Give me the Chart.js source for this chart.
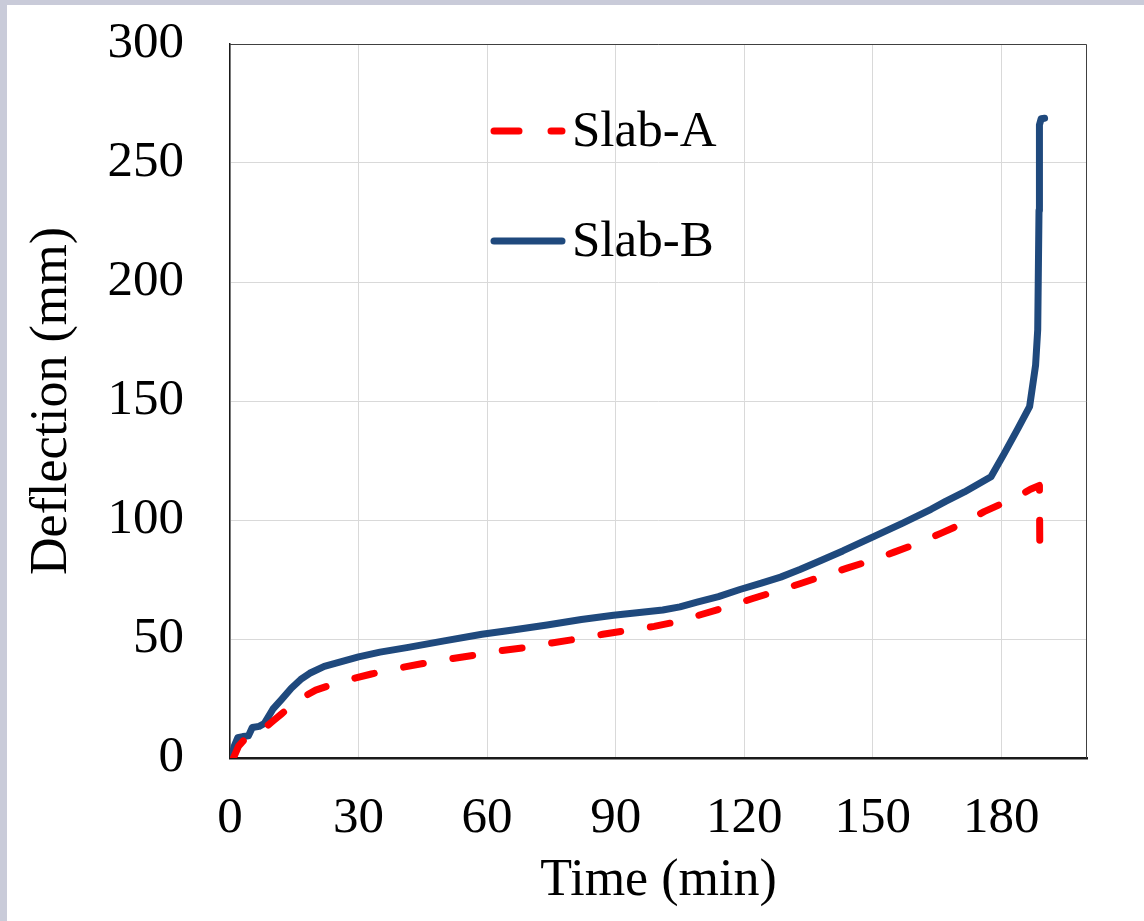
<!DOCTYPE html>
<html>
<head>
<meta charset="utf-8">
<script src="https://cdn.jsdelivr.net/npm/chart.js@4"></script>
<style>
  html, body { margin: 0; padding: 0; background: #c9cbd9; }
  #wrap { position: absolute; left: 7px; top: 5px; width: 1137px; height: 916px; background: #fff; }
</style>
</head>
<body>
<div id="wrap"><canvas id="deflexionChart"></canvas></div>
<script>
// Valores (tiempo en min, flecha en mm)
const slabATime = [0.8, 2, 4, 6, 8, 10, 12, 14, 17, 20, 24, 28, 33, 40, 45, 50, 57, 63, 70, 75, 81, 87, 93, 99, 105, 110, 116, 122, 127, 133, 139, 144, 150, 155, 160, 166, 171, 176, 181, 185, 186.8, 188.9, 189.0];
const slabADefl = [0, 5, 9, 10.5, 12.5, 15.5, 18.5, 21.5, 25.5, 28.5, 31, 33, 35.3, 38, 39.7, 41.2, 43.2, 45, 46.7, 48.3, 50, 52, 53.7, 55.3, 57.5, 60.3, 63.5, 67, 69.8, 73.2, 76.8, 79.8, 83.2, 86.5, 89.8, 94.5, 98.5, 103.5, 107.6, 111, 112.9, 114.5, 84];

const slabBTime = [0.3, 1, 1.8, 3, 4.3, 5.2, 6.8, 8, 10, 12, 14.3, 16.5, 18.6, 22, 26, 30, 35, 41.6, 50, 58.8, 66, 74, 82, 89.5, 95, 101, 105, 109, 114, 119, 124, 128.5, 133, 137.9, 143, 150.2, 157, 163.6, 167, 171.4, 177.6, 180.7, 183.9, 186.6, 188.0, 188.5, 188.8, 188.9, 189.3, 190.1];
const slabBDefl = [0, 5, 8.5, 9, 9.3, 12.8, 13.3, 14.5, 20.5, 24.5, 29.3, 33, 35.6, 38.5, 40.5, 42.5, 44.5, 46.5, 49.2, 52, 53.8, 55.9, 58.2, 60, 61, 62.2, 63.5, 65.5, 67.8, 70.8, 73.5, 76, 79.2, 83, 87, 93, 98.7, 104.5, 107.8, 111.8, 118.2, 128, 138.5, 147.6, 165, 180, 230, 266, 268.6, 268.8];

const seriesLabels = ['Slab-A', 'Slab-B'];
const xTicks = [0, 30, 60, 90, 120, 150, 180];
const yTicks = [0, 50, 100, 150, 200, 250, 300];

const fuente = 'Liberation Serif, Times New Roman, serif';

function toPoints(xs, ys) {
    return xs.map((x, i) => ({ x: x, y: ys[i] }));
}

// Borde superior/derecho del area del grafico
const marcoPlugin = {
    id: 'marco',
    beforeDatasetsDraw(chart) {
        const a = chart.chartArea;
        const ctx = chart.ctx;
        ctx.save();
        ctx.strokeStyle = '#404040';
        ctx.lineWidth = 1;
        ctx.beginPath();
        ctx.moveTo(a.left, a.top + 0.5);
        ctx.lineTo(a.right - 0.5, a.top + 0.5);
        ctx.lineTo(a.right - 0.5, a.bottom);
        ctx.stroke();
        ctx.restore();
    }
};

// Leyenda dentro del area de trazado
const leyendaPlugin = {
    id: 'leyenda',
    afterDatasetsDraw(chart) {
        const ctx = chart.ctx;
        const filas = [126, 236];
        ctx.save();
        chart.data.datasets.forEach((ds, i) => {
            const y = filas[i];
            ctx.strokeStyle = ds.borderColor;
            ctx.lineWidth = 7;
            ctx.lineCap = 'round';
            ctx.setLineDash(ds.borderDash && ds.borderDash.length ? [25, 32] : []);
            ctx.beginPath();
            ctx.moveTo(487, y);
            ctx.lineTo(555, y);
            ctx.stroke();
            ctx.setLineDash([]);
            ctx.fillStyle = '#000';
            ctx.font = '51px ' + fuente;
            ctx.textAlign = 'left';
            ctx.textBaseline = 'middle';
            ctx.fillText(ds.label, 565, y + 2);
        });
        ctx.restore();
    }
};

const canvas = document.getElementById('deflexionChart');
const ctx = canvas.getContext('2d');

const deflexionChart = new Chart(ctx, {
    type: 'line',
    data: {
        datasets: [{
            label: seriesLabels[0],
            data: toPoints(slabATime, slabADefl),
            borderColor: '#ff0000',
            borderWidth: 7,
            borderDash: [20, 30],
            borderCapStyle: 'round',
            borderJoinStyle: 'round',
            pointRadius: 0,
            tension: 0
        }, {
            label: seriesLabels[1],
            data: toPoints(slabBTime, slabBDefl),
            borderColor: '#1f497d',
            borderWidth: 7,
            borderCapStyle: 'round',
            borderJoinStyle: 'round',
            pointRadius: 0,
            tension: 0
        }]
    },
    options: {
        responsive: true,
        maintainAspectRatio: false,
        animation: false,
        layout: { padding: { left: 0, right: 57, top: 39, bottom: 0 } },
        plugins: {
            legend: { display: false },
            tooltip: { enabled: false }
        },
        scales: {
            x: {
                type: 'linear',
                min: 0,
                max: 200,
                afterBuildTicks: (s) => { s.ticks = xTicks.map(v => ({ value: v })); },
                afterFit: (s) => { s.height = 163; },
                grid: { color: '#d9d9d9', lineWidth: 1, drawTicks: true, tickLength: 26, tickColor: 'rgba(0,0,0,0)' },
                border: { color: '#1a1a1a', width: 2.5 },
                ticks: { color: '#000', font: { family: fuente, size: 51 }, padding: 4, maxRotation: 0 },
                title: { display: true, text: 'Time (min)', color: '#000', font: { family: fuente, size: 52 }, padding: { top: 0, bottom: 8 } }
            },
            y: {
                type: 'linear',
                min: 0,
                max: 300,
                afterBuildTicks: (s) => { s.ticks = yTicks.map(v => ({ value: v })); },
                afterFit: (s) => { s.width = 223; },
                grid: { color: '#d9d9d9', lineWidth: 1, drawTicks: true, tickLength: 40, tickColor: 'rgba(0,0,0,0)' },
                border: { color: '#1a1a1a', width: 1.5 },
                ticks: { color: '#000', font: { family: fuente, size: 51 }, padding: 6 },
                title: { display: true, text: 'Deflection (mm)', color: '#000', font: { family: fuente, size: 52 }, padding: { top: 14, bottom: 0 } }
            }
        }
    },
    plugins: [marcoPlugin, leyendaPlugin]
});
</script>
</body>
</html>
